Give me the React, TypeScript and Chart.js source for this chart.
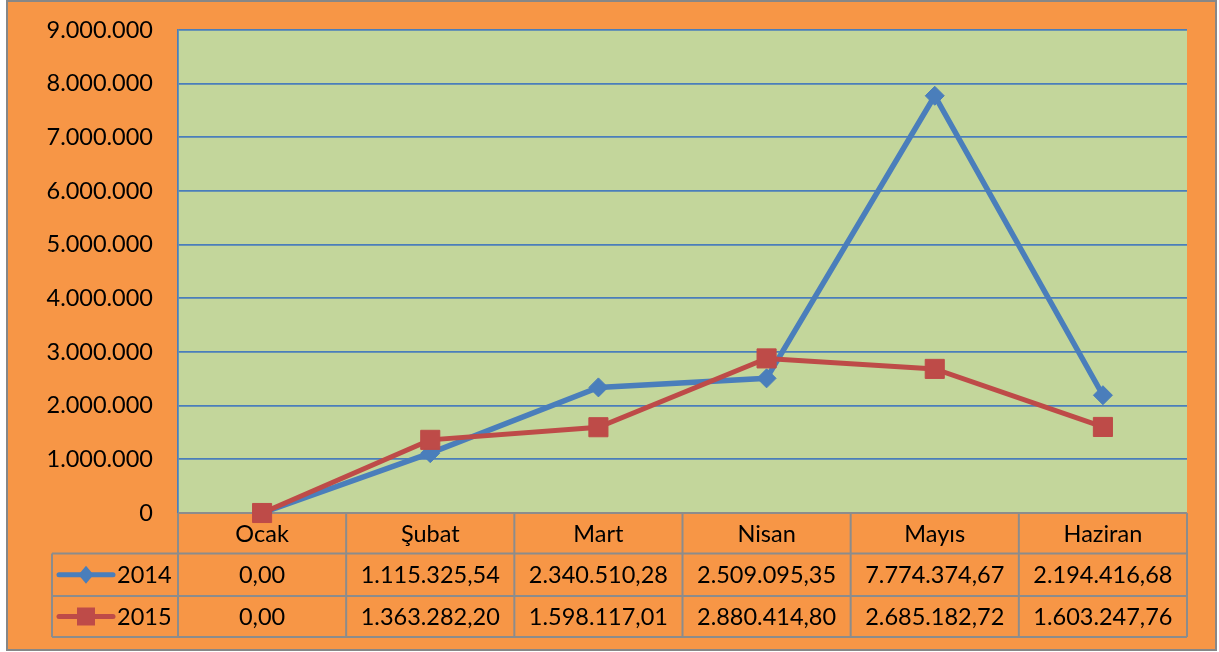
import React, { useEffect, useRef } from 'react';
import { Chart, registerables } from 'chart.js';

Chart.register(...registerables);

const categories = ['Ocak', 'Şubat', 'Mart', 'Nisan', 'Mayıs', 'Haziran'];
const seriesNames = ['2014', '2015'];
const values2014 = [0, 1115325.54, 2340510.28, 2509095.35, 7774374.67, 2194416.68];
const values2015 = [0, 1363282.2, 1598117.01, 2880414.8, 2685182.72, 1603247.76];
const yMin = 0;
const yMax = 9000000;
const yStep = 1000000;

const COLORS = ['#4A7EBB', '#BE4B48'];
const STYLES = ['rectRot', 'rect'];
const FONT_FAMILY = 'Lato, "Open Sans", sans-serif';
const FONT = '23.5px ' + FONT_FAMILY;

function groupDots(s: string) {
  return s.replace(/\B(?=(\d{3})+(?!\d))/g, '.');
}
function fmtTick(v: number) {
  return groupDots(String(Math.round(v)));
}
function fmtCell(v: number) {
  const [i, d] = v.toFixed(2).split('.');
  return groupDots(i) + ',' + d;
}

function drawMarker(ctx: CanvasRenderingContext2D, style: string, x: number, y: number, color: string) {
  ctx.fillStyle = color;
  ctx.beginPath();
  if (style === 'rect') {
    const s = 9;
    ctx.rect(x - s, y - s, 2 * s, 2 * s);
  } else {
    const w = 7.5, h = 9;
    ctx.moveTo(x, y - h);
    ctx.lineTo(x + w, y);
    ctx.lineTo(x, y + h);
    ctx.lineTo(x - w, y);
    ctx.closePath();
  }
  ctx.fill();
}

const framePlugin = {
  id: 'frameAndTable',
  beforeDraw(chart: any) {
    const ctx = chart.ctx as CanvasRenderingContext2D;
    const { left, top, right, bottom } = chart.chartArea;
    ctx.save();
    ctx.fillStyle = '#ffffff';
    ctx.fillRect(0, 0, chart.width, chart.height);
    ctx.fillStyle = '#F79646';
    ctx.fillRect(7, 0, chart.width - 10, chart.height - 2);
    ctx.strokeStyle = '#878787';
    ctx.lineWidth = 2;
    ctx.strokeRect(7, 1, chart.width - 10, chart.height - 3);
    ctx.fillStyle = '#C3D69B';
    ctx.fillRect(left, top, right - left, bottom - top);
    ctx.restore();
  },
  beforeDatasetsDraw(chart: any) {
    const ctx = chart.ctx as CanvasRenderingContext2D;
    const { left, right, bottom } = chart.chartArea;
    const xs = chart.scales.x;
    const colW = (right - left) / categories.length;
    const keyLeft = left - 126;
    const rows = [bottom, bottom + 40.5, bottom + 83, bottom + 124];
    ctx.save();
    ctx.strokeStyle = '#8C8C8C';
    ctx.lineWidth = 2;
    ctx.beginPath();
    ctx.moveTo(left, rows[0]);
    ctx.lineTo(right, rows[0]);
    for (let r = 1; r < rows.length; r++) {
      ctx.moveTo(keyLeft, rows[r]);
      ctx.lineTo(right, rows[r]);
    }
    ctx.moveTo(keyLeft, rows[1]);
    ctx.lineTo(keyLeft, rows[3]);
    for (let i = 0; i <= categories.length; i++) {
      const x = left + i * colW;
      ctx.moveTo(x, rows[0]);
      ctx.lineTo(x, rows[3]);
    }
    ctx.stroke();

    ctx.font = FONT;
    ctx.fillStyle = '#000';
    ctx.textAlign = 'center';
    ctx.textBaseline = 'middle';
    categories.forEach((c, i) => {
      const cx = xs.getPixelForValue(i);
      ctx.fillText(c, cx, (rows[0] + rows[1]) / 2 + 1);
    });
    const allValues = [values2014, values2015];
    allValues.forEach((vals, r) => {
      const cy = (rows[r + 1] + rows[r + 2]) / 2 + 1;
      vals.forEach((v, i) => {
        ctx.fillStyle = '#000';
        ctx.fillText(fmtCell(v), xs.getPixelForValue(i), cy);
      });
      const ky = (rows[r + 1] + rows[r + 2]) / 2;
      ctx.strokeStyle = COLORS[r];
      ctx.lineWidth = 5;
      ctx.lineCap = 'round';
      ctx.beginPath();
      ctx.moveTo(keyLeft + 7, ky);
      ctx.lineTo(keyLeft + 61, ky);
      ctx.stroke();
      drawMarker(ctx, STYLES[r], keyLeft + 34, ky, COLORS[r]);
      ctx.fillStyle = '#000';
      ctx.textAlign = 'left';
      ctx.fillText(seriesNames[r], keyLeft + 65, cy);
      ctx.textAlign = 'center';
    });
    ctx.restore();
  },
};

export default function App() {
  const ref = useRef<HTMLCanvasElement | null>(null);
  useEffect(() => {
    if (!ref.current) return;
    const chart = new Chart(ref.current, {
      type: 'line',
      data: {
        labels: categories,
        datasets: [
          {
            label: seriesNames[0],
            data: values2014,
            borderColor: COLORS[0],
            backgroundColor: COLORS[0],
            pointBackgroundColor: COLORS[0],
            pointBorderColor: COLORS[0],
            borderWidth: 5.5,
            pointStyle: 'rectRot',
            pointRadius: 9.5,
            pointBorderWidth: 1,
            tension: 0,
            clip: false,
            order: 2,
          },
          {
            label: seriesNames[1],
            data: values2015,
            borderColor: COLORS[1],
            backgroundColor: COLORS[1],
            pointBackgroundColor: COLORS[1],
            pointBorderColor: COLORS[1],
            borderWidth: 5,
            pointStyle: 'rect',
            pointRadius: 13.5,
            pointBorderWidth: 1,
            tension: 0,
            clip: false,
            order: 1,
          },
        ],
      },
      options: {
        animation: false,
        responsive: false,
        maintainAspectRatio: false,
        events: [],
        layout: { padding: { left: 0, top: 30, right: 32, bottom: 139 } },
        plugins: { legend: { display: false }, tooltip: { enabled: false } },
        scales: {
          x: { display: false, offset: true },
          y: {
            min: yMin,
            max: yMax,
            ticks: {
              stepSize: yStep,
              callback: (v: any) => fmtTick(Number(v)),
              color: '#000',
              font: { family: FONT_FAMILY, size: 23.5 },
              padding: 25,
            },
            grid: { color: '#4A7EBB', lineWidth: 1.75, drawTicks: false },
            border: { color: '#4A7EBB', width: 1.75 },
            afterFit: (scale: any) => {
              scale.width = 178;
              scale.paddingTop = 0;
              scale.paddingBottom = 0;
            },
          },
        },
      },
      plugins: [framePlugin],
    } as any);
    return () => chart.destroy();
  }, []);
  return (
    <div style={{ position: 'fixed', left: 0, top: 0, width: 1219, height: 652 }}>
      <canvas ref={ref} width={1219} height={652} style={{ width: 1219, height: 652, display: 'block' }} />
    </div>
  );
}
